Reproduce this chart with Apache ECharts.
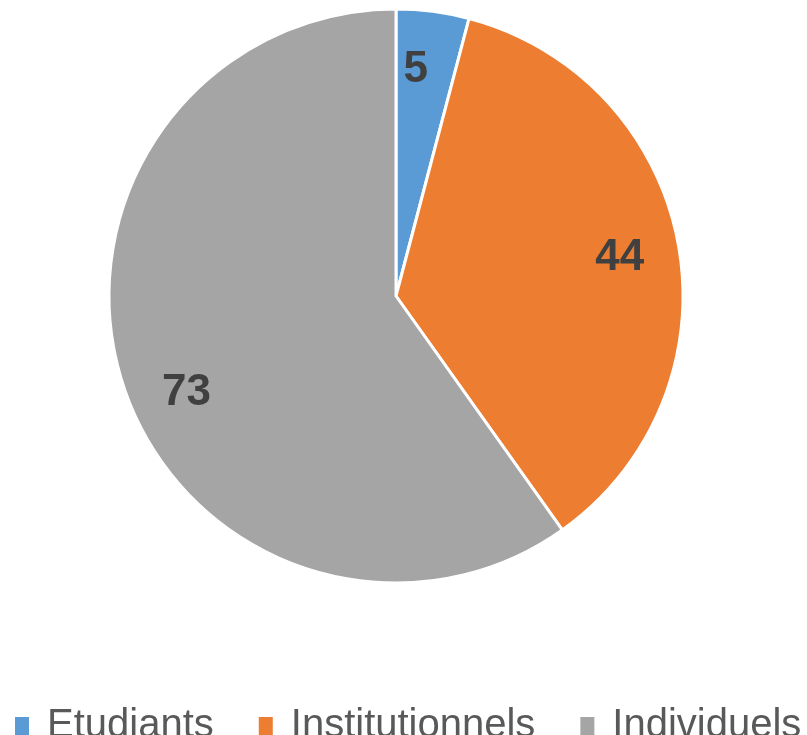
<!DOCTYPE html>
<html>
<head>
<meta charset="utf-8">
<script src="https://cdn.jsdelivr.net/npm/echarts@6/dist/echarts.min.js"></script>
<style>html,body{margin:0;padding:0;background:#fff;}#c{width:807px;height:735px;}</style>
</head>
<body>
<div id="c"></div>
<script>
const categories = ['Etudiants', 'Institutionnels', 'Individuels'];
const values = [5, 44, 73];
const colors = ['#5B9BD5', '#ED7D31', '#A5A5A5'];

const chart = echarts.init(document.getElementById('c'), null, {renderer: 'canvas'});
// label nudges to mimic the original's label placement (styling, not data)
const labelNudge = [[-10, 4], [-5, 4], [12, 26]];
const data = categories.map((n, i) => ({name: n, value: values[i], itemStyle: {color: colors[i]}}));
const labelData = categories.map((n, i) => ({name: n, value: values[i], label: {offset: labelNudge[i]}}));
chart.setOption({
  animation: false,
  legend: {
    data: categories,
    top: 697,
    left: 13,
    itemWidth: 16,
    itemHeight: 20,
    itemGap: 43,
    icon: 'rect',
    padding: 0,
    textStyle: {fontFamily: 'Liberation Sans', fontSize: 40, lineHeight: 40, color: '#595959', padding: [0, 0, 18, 12]}
  },
  series: [
    {
      type: 'pie',
      center: [396, 296],
      radius: [0, 287],
      startAngle: 90,
      clockwise: true,
      data: data,
      label: {show: false},
      labelLine: {show: false},
      itemStyle: {borderColor: '#fff', borderWidth: 3},
      emphasis: {disabled: true}
    },
    {
      type: 'pie',
      center: [396, 296],
      radius: [172, 287],
      startAngle: 90,
      clockwise: true,
      silent: true,
      legendHoverLink: false,
      data: labelData,
      itemStyle: {color: 'rgba(0,0,0,0)'},
      label: {show: true, position: 'inside', formatter: '{c}', fontFamily: 'Liberation Sans', fontWeight: 'bold', fontSize: 44, color: '#404040'},
      labelLine: {show: false},
      emphasis: {disabled: true}
    }
  ]
});
</script>
</body>
</html>
